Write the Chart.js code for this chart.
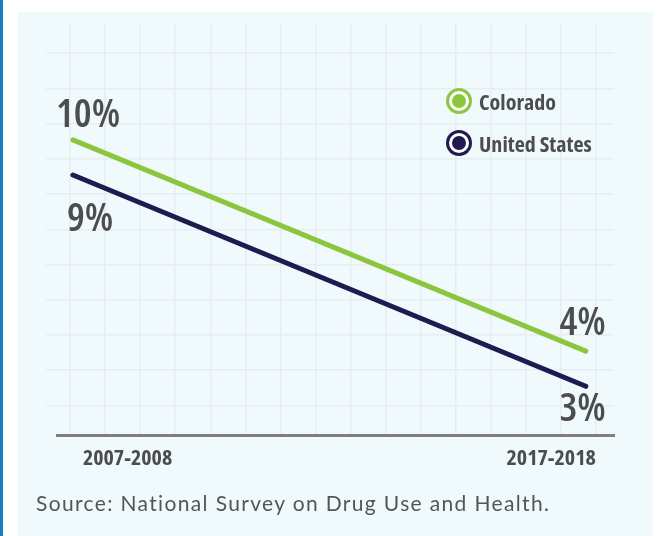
<!DOCTYPE html>
<html lang="en">
<head>
  <meta charset="UTF-8" />
  <title>Colorado vs United States</title>
  <script src="https://cdn.jsdelivr.net/npm/chart.js"></script>
  <style>
    body {
      margin: 0;
      background: #ffffff;
      font-family: 'Open Sans', sans-serif;
    }

    .frame {
      position: relative;
      width: 666px;
      height: 536px;
      overflow: hidden;
      border-left: 3px solid #1a7ec3;
      box-sizing: border-box;
    }

    .panel {
      position: absolute;
      left: 15px;
      top: 12px;
      width: 635px;
      height: 540px;
      background: #f0f9fc;
    }

    .chart-box {
      position: absolute;
      left: -3px;
      top: 0;
      width: 666px;
      height: 536px;
    }

    .legend {
      position: absolute;
      left: 443px;
      top: 86px;
      list-style: none;
      margin: 0;
      padding: 0;
    }

    .legend li {
      display: flex;
      align-items: center;
      height: 30px;
      margin-bottom: 12px;
      font-weight: 700;
      font-stretch: 75%;
      font-size: 22px;
      color: #4d4d4d;
    }

    .legend .dot {
      width: 14px;
      height: 14px;
      border-radius: 50%;
      margin: 0 13px 0 6px;
    }

    .source {
      position: absolute;
      left: 33px;
      top: 490px;
      font-family: 'Lato', sans-serif;
      font-size: 21px;
      color: #555555;
      letter-spacing: 1.35px;
      white-space: nowrap;
    }
  </style>
</head>
<body>

  <div class="frame">
    <div class="panel"></div>
    <div class="chart-box">
      <canvas id="trendChart"></canvas>
    </div>
    <ul id="legend" class="legend"></ul>
    <div class="source">Source: National Survey on Drug Use and Health.</div>
  </div>

  <script>
    // data
    const categories = ["2007-2008", "2017-2018"];
    const seriesNames = ["Colorado", "United States"];
    const colorado = [10, 4];
    const unitedStates = [9, 3];

    const green = "#8cc63f";
    const navy = "#1f1a50";
    const textGray = "#4d4d4d";

    // draws the "10%" style labels next to each end point
    const endLabels = {
      id: "endLabels",
      afterDatasetsDraw(chart) {
        const ctx = chart.ctx;
        ctx.save();
        ctx.font = "semi-condensed 600 40px 'Open Sans'";
        ctx.fillStyle = textGray;
        ctx.textBaseline = "alphabetic";
        chart.data.datasets.forEach((ds, i) => {
          const meta = chart.getDatasetMeta(i);
          meta.data.forEach((pt, j) => {
            ctx.textAlign = j === 0 ? "left" : "right";
            ctx.fillText(ds.data[j].y + "%", pt.x + ds.labelDx[j], pt.y + ds.labelDy[j]);
          });
        });
        ctx.restore();
      }
    };

    const chart = new Chart(document.getElementById("trendChart"), {
      type: "line",
      data: {
        datasets: [
          {
            label: seriesNames[0],
            data: colorado.map((v, i) => ({ x: i, y: v })),
            borderColor: green,
            backgroundColor: green,
            labelDx: [-17, 20],
            labelDy: [-13, -16]
          },
          {
            label: seriesNames[1],
            data: unitedStates.map((v, i) => ({ x: i, y: v })),
            borderColor: navy,
            backgroundColor: navy,
            labelDx: [-6, 20],
            labelDy: [56, 35]
          }
        ]
      },
      options: {
        responsive: true,
        maintainAspectRatio: false,
        animation: false,
        layout: {
          padding: { left: 46, top: 24, right: 52, bottom: 54 }
        },
        elements: {
          line: { borderWidth: 5, borderCapStyle: "round", tension: 0 },
          point: { radius: 0, hoverRadius: 0 }
        },
        plugins: {
          legend: { display: false },
          tooltip: { enabled: false }
        },
        scales: {
          x: {
            type: "linear",
            min: -0.031,
            max: 1.055,
            afterBuildTicks: (scale) => {
              scale.ticks = categories.map((c, i) => ({ value: i }));
            },
            grid: { display: false, drawTicks: false },
            border: { display: true, color: "#7f7f7f", width: 3 },
            ticks: {
              align: "inner",
              labelOffset: 10,
              padding: 10,
              color: textGray,
              font: { family: "'Open Sans'", size: 22, weight: "condensed 700" },
              callback: (value) => categories[value]
            }
          },
          xGrid: {
            type: "linear",
            position: "top",
            min: -0.371,
            max: 15.51,
            grid: { color: "#e8edef", lineWidth: 1.5, drawTicks: false },
            border: { display: false },
            ticks: { display: false, stepSize: 1, includeBounds: false }
          },
          y: {
            display: false,
            min: 1.6,
            max: 13.29
          },
          yGrid: {
            type: "linear",
            position: "left",
            min: 1.14,
            max: 12.83,
            grid: { color: "#e8edef", lineWidth: 1.5, tickLength: 11 },
            border: { display: false },
            ticks: { display: false, stepSize: 1, includeBounds: false }
          }
        }
      },
      plugins: [endLabels]
    });

    // html legend built from the datasets
    const legendEl = document.getElementById("legend");
    chart.data.datasets.forEach(ds => {
      const li = document.createElement("li");
      li.innerHTML = `<span class="dot" style="background:${ds.borderColor};box-shadow:0 0 0 3px #ffffff, 0 0 0 6px ${ds.borderColor}"></span>${ds.label}`;
      legendEl.appendChild(li);
    });
  </script>

</body>
</html>
